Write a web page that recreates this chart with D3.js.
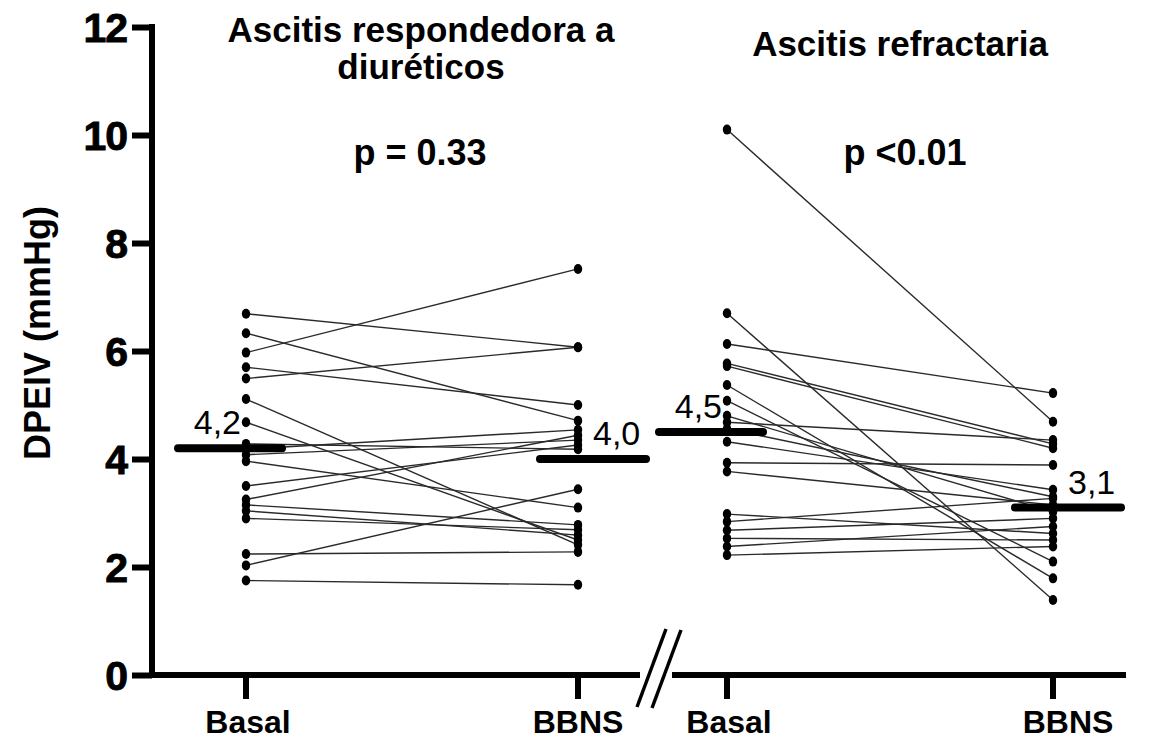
<!DOCTYPE html>
<html>
<head>
<meta charset="utf-8">
<script src="https://d3js.org/d3.v7.min.js"></script>
<style>
  html, body { margin: 0; padding: 0; background: #fff; }
  svg { display: block; }
  text { font-family: "Liberation Sans", Arial, Helvetica, sans-serif; fill: #000; }
</style>
</head>
<body>
<svg id="chart" width="1155" height="744"></svg>
<script>
// Paired DPEIV measurements (mmHg), Basal vs BBNS, one pair per patient
const groups = ["Basal", "BBNS"];
const yTicks = [0, 2, 4, 6, 8, 10, 12];

const respBasal = [6.69, 6.33, 5.97, 5.70, 5.49, 5.11, 4.68, 4.28, 4.18, 4.08, 3.96, 3.50, 3.25, 3.15, 3.04, 2.90, 2.24, 2.03, 1.75];
const respBBNS  = [6.07, 4.71, 7.52, 5.00, 6.07, 2.41, 2.50, 4.18, 4.54, 4.35, 3.10, 4.26, 4.44, 2.78, 2.59, 2.69, 2.28, 3.44, 1.67];

const refrBasal = [10.1, 6.70, 6.13, 5.77, 5.72, 5.37, 5.08, 4.80, 4.68, 4.56, 4.32, 3.93, 3.77, 2.98, 2.84, 2.68, 2.53, 2.38, 2.22];
const refrBBNS  = [4.69, 1.39, 5.22, 4.28, 4.20, 1.79, 2.10, 3.02, 4.35, 3.30, 3.43, 3.89, 3.15, 2.62, 3.27, 2.90, 2.50, 2.75, 2.38];

// Group means shown as bars with their labels
const respMeans = [4.2, 4.0];
const refrMeans = [4.5, 3.1];
const respMeanLabels = ["4,2", "4,0"];
const refrMeanLabels = ["4,5", "3,1"];

const panelTitles = [["Ascitis respondedora a", "diuréticos"], ["Ascitis refractaria"]];
const pValues = ["p = 0.33", "p <0.01"];
const yTitle = "DPEIV (mmHg)";

const svg = d3.select("#chart");

const y = d3.scaleLinear().domain([0, 12]).range([675, 27]);
const xLeft = d3.scalePoint().domain(groups).range([246, 578]);
const xRight = d3.scalePoint().domain(groups).range([727, 1053]);

// ---- Y axis ----
const yAxis = d3.axisLeft(y).tickValues(yTicks).tickFormat(d3.format("d")).tickSize(20).tickPadding(5);
const yG = svg.append("g").attr("transform", "translate(152,0)").call(yAxis);
yG.select(".domain").remove();
yG.selectAll(".tick line").attr("stroke", "#000").attr("stroke-width", 6);
yG.selectAll(".tick text")
  .attr("font-family", "'Liberation Sans', Arial, sans-serif")
  .attr("font-weight", "bold")
  .attr("font-size", 41)
  .attr("dy", "0.35em")
  .attr("stroke", "#000").attr("stroke-width", 0.9)
  .style("letter-spacing", "-1px");
svg.append("line")
  .attr("x1", 152).attr("x2", 152)
  .attr("y1", y(12) - 3).attr("y2", y(0) + 3)
  .attr("stroke", "#000").attr("stroke-width", 6);

svg.append("text")
  .attr("transform", `translate(50,${(y(12) + y(0)) / 2 - 18}) rotate(-90)`)
  .attr("text-anchor", "middle")
  .attr("font-weight", "bold")
  .attr("font-size", 36)
  .text(yTitle);

// ---- X axis with a break between the two panels ----
const xAxisY = y(0);
svg.append("line").attr("x1", 149).attr("x2", 640).attr("y1", xAxisY).attr("y2", xAxisY)
  .attr("stroke", "#000").attr("stroke-width", 6);
svg.append("line").attr("x1", 672).attr("x2", 1126).attr("y1", xAxisY).attr("y2", xAxisY)
  .attr("stroke", "#000").attr("stroke-width", 6);
[[637, 707, 666, 629], [652, 708, 681, 630]].forEach(([x1, y1, x2, y2]) => {
  svg.append("line").attr("x1", x1).attr("y1", y1).attr("x2", x2).attr("y2", y2)
    .attr("stroke", "#000").attr("stroke-width", 3.5);
});

function drawPanel(x, basal, bbns, means, meanLabels) {
  const g = svg.append("g");

  // category ticks
  groups.forEach(k => {
    g.append("line").attr("x1", x(k)).attr("x2", x(k))
      .attr("y1", xAxisY).attr("y2", xAxisY + 24)
      .attr("stroke", "#000").attr("stroke-width", 6);
  });

  // paired lines
  const pairs = basal.map((b, i) => [b, bbns[i]]);
  g.selectAll("line.pair").data(pairs).join("line")
    .attr("class", "pair")
    .attr("x1", x("Basal")).attr("x2", x("BBNS"))
    .attr("y1", d => y(d[0])).attr("y2", d => y(d[1]))
    .attr("stroke", "#2a2a2a").attr("stroke-width", 1.4);

  // points
  g.selectAll("ellipse.b").data(basal).join("ellipse")
    .attr("class", "b")
    .attr("cx", x("Basal")).attr("cy", d => y(d))
    .attr("rx", 4.2).attr("ry", 5).attr("fill", "#000");
  g.selectAll("ellipse.n").data(bbns).join("ellipse")
    .attr("class", "n")
    .attr("cx", x("BBNS")).attr("cy", d => y(d))
    .attr("rx", 4.2).attr("ry", 5).attr("fill", "#000");

  // mean bars and their labels
  const barExt = { Basal: [-68, 36], BBNS: [-38, 68] };
  groups.forEach((k, i) => {
    g.append("line")
      .attr("x1", x(k) + barExt[k][0]).attr("x2", x(k) + barExt[k][1])
      .attr("y1", y(means[i])).attr("y2", y(means[i]))
      .attr("stroke", "#000").attr("stroke-width", 8).attr("stroke-linecap", "round");
    const t = g.append("text")
      .attr("y", y(means[i]) - 14)
      .attr("font-size", 34)
      .text(meanLabels[i]);
    if (k === "Basal") t.attr("x", x(k) - 5).attr("text-anchor", "end");
    else t.attr("x", x(k) + 15).attr("text-anchor", "start");
  });
}

drawPanel(xLeft, respBasal, respBBNS, respMeans, respMeanLabels);
drawPanel(xRight, refrBasal, refrBBNS, refrMeans, refrMeanLabels);

// category labels under the axis
[[xLeft, 0], [xRight, 1]].forEach(([x, p]) => {
  groups.forEach(k => {
    svg.append("text")
      .attr("x", x(k) + (p === 1 && k === "BBNS" ? 15 : (k === "Basal" ? 2 : 0)))
      .attr("y", 733)
      .attr("text-anchor", "middle")
      .attr("font-weight", "bold")
      .attr("font-size", 32)
      .text(k);
  });
});

// panel titles and p-values
const titleSpec = [{ cx: 421, ys: [42, 79] }, { cx: 900, ys: [56] }];
panelTitles.forEach((lines, i) => {
  lines.forEach((s, j) => {
    svg.append("text")
      .attr("x", titleSpec[i].cx).attr("y", titleSpec[i].ys[j])
      .attr("text-anchor", "middle").attr("font-weight", "bold").attr("font-size", 35)
      .text(s);
  });
});
[[420, 165], [905, 165]].forEach(([cx, cy], i) => {
  svg.append("text")
    .attr("x", cx).attr("y", cy)
    .attr("text-anchor", "middle").attr("font-weight", "bold").attr("font-size", 36)
    .text(pValues[i]);
});
</script>
</body>
</html>
